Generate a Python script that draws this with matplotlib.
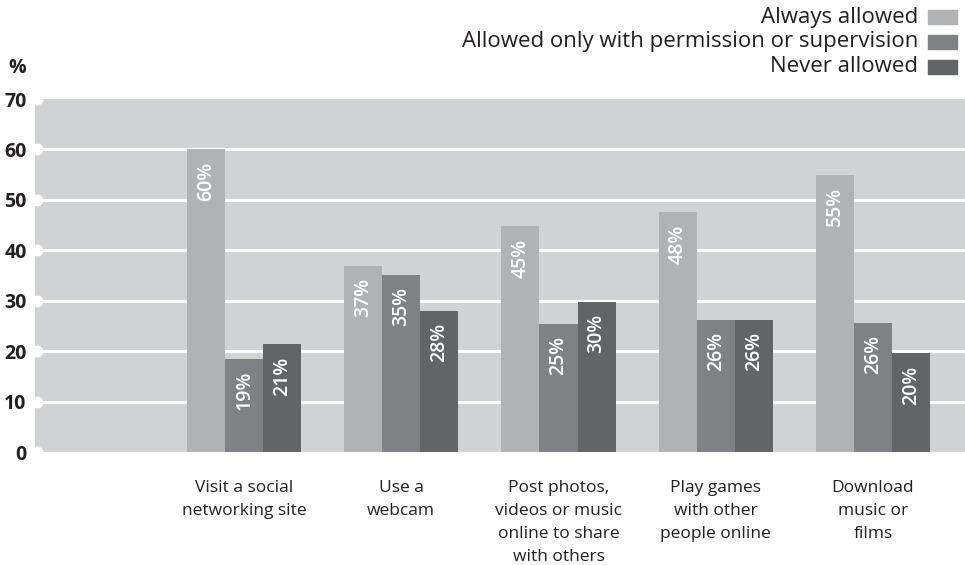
import numpy as np
import matplotlib.pyplot as plt
from matplotlib.patches import Rectangle

# data
categories = ["Visit a social\nnetworking site", "Use a\nwebcam",
              "Post photos,\nvideos or music\nonline to share\nwith others",
              "Play games\nwith other\npeople online", "Download\nmusic or\nfilms"]
series = ["Always allowed", "Allowed only with permission or supervision", "Never allowed"]
always = [60.1, 36.9, 44.8, 47.6, 55.0]
permission = [18.5, 35.1, 25.4, 26.2, 25.6]
never = [21.4, 28.0, 29.8, 26.2, 19.6]
always_lbl = ["60%", "37%", "45%", "48%", "55%"]
permission_lbl = ["19%", "35%", "25%", "26%", "26%"]
never_lbl = ["21%", "28%", "30%", "26%", "20%"]
yticks = [0, 10, 20, 30, 40, 50, 60, 70]

colors = ["#b1b2b4", "#808184", "#636466"]
bg = "#d1d2d4"
txt = "#231f20"
plt.rcParams['font.family'] = ['Open Sans', 'DejaVu Sans']

fig = plt.figure(figsize=(9.65, 5.65), dpi=100)
ax = fig.add_axes([35/965, 113/565, 930/965, 353/565])
ax.set_facecolor(bg)
for s in ax.spines.values():
    s.set_visible(False)

x = np.arange(len(categories))
w = 0.2417
vals = [always, permission, never]
lbls = [always_lbl, permission_lbl, never_lbl]
for k in range(3):
    xs = x + (k - 1) * w
    ax.bar(xs, vals[k], width=w, color=colors[k], zorder=3)
    for xi, v, l in zip(xs, vals[k], lbls[k]):
        ax.annotate(l, (xi, v), xytext=(0, -9), textcoords='offset points',
                    rotation=90, ha='center', va='top', color='white',
                    fontsize=14, fontweight='semibold', zorder=4)

ax.set_xlim(-1.329, 4.585)
ax.set_ylim(0, 70)
ax.set_yticks(yticks)
ax.set_yticklabels([str(t) for t in yticks], fontsize=14, fontweight='bold', color=txt)
for t in yticks[1:-1]:
    ax.axhline(t, color='white', lw=2.2, zorder=2)
# little white bumps on the left edge
ax.plot([-1.329 + 0.012] * len(yticks), yticks, 'o', color='white', ms=7.5,
        clip_on=False, zorder=5)
ax.tick_params(axis='y', length=0, pad=6)
ax.set_xticks(x)
ax.set_xticklabels(categories, fontsize=12.5, color=txt, linespacing=1.59)
ax.tick_params(axis='x', length=0, pad=20)

fig.text(17/965, 1 - 68/565, "%", fontsize=14, fontweight='bold', color=txt,
         ha='center', va='center')

# legend drawn by hand, right aligned
for i, name in enumerate(series):
    yc = 1 - (17 + 25 * i) / 565
    fig.text(918/965, yc, name, fontsize=16, color=txt, ha='right', va='center')
    fig.patches.append(Rectangle((928/965, yc - 7/565), 29/965, 14/565,
                                 transform=fig.transFigure, color=colors[i]))

fig.savefig("out.png", dpi=100)
